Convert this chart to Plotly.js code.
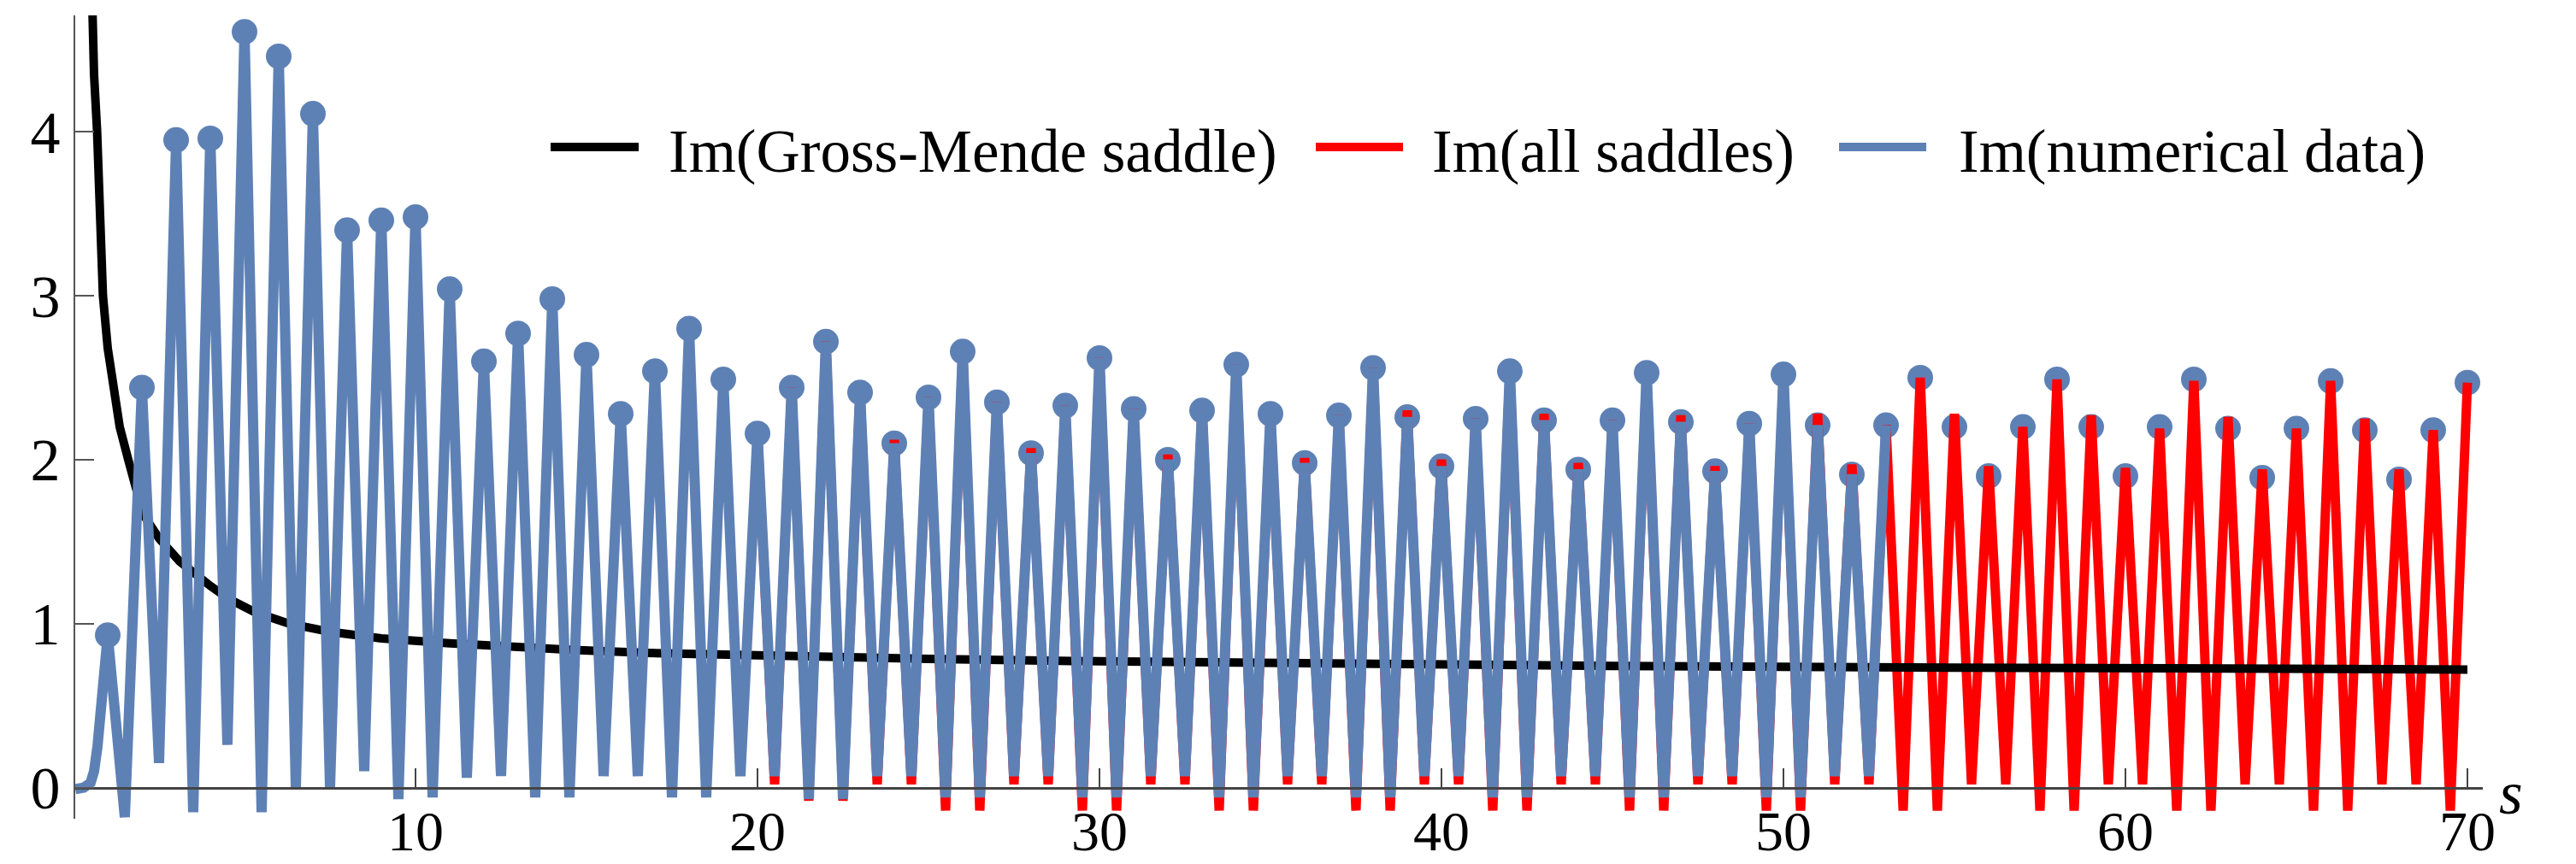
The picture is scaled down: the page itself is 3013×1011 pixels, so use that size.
<!DOCTYPE html>
<html><head><meta charset="utf-8">
<script src="https://cdn.plot.ly/plotly-3.0.1.min.js"></script>
<style>html,body{margin:0;padding:0;background:#fff;overflow:hidden}#chart{width:3013px;height:1011px}</style>
</head><body><div id="chart"></div>
<script>
// ---------------- data ----------------
const peakS = [1,2,3,4,5,6,7,8,9,10,11,12,13,14,15,16,17,18,19,20,21,22,23,24,25,26,27,28,29,30,31,32,33,34,35,36,37,38,39,40,41,42,43,44,45,46,47,48,49,50,51,52,53,54,55,56,57,58,59,60,61,62,63,64,65,66,67,68,69,70];
const peakIm = [0.93,2.44,3.95,3.96,4.61,4.46,4.11,3.40,3.46,3.48,3.04,2.60,2.77,2.98,2.64,2.28,2.54,2.80,2.49,2.16,
  2.44,2.72,2.41,2.10,2.38,2.66,2.35,2.04,2.33,2.62,2.31,2.00,2.30,2.58,2.28,1.98,2.27,2.56,2.26,1.96,
  2.25,2.54,2.24,1.94,2.24,2.53,2.23,1.93,2.22,2.52,2.21,1.91,2.21,2.50,2.20,1.90,2.20,2.49,2.20,1.90,
  2.20,2.49,2.19,1.89,2.19,2.48,2.18,1.88,2.18,2.47];

const numStartS  = [0.05,0.3,0.5,0.6,0.7,0.8,0.9];
const numStartIm = [-0.01,0.0,0.03,0.1,0.25,0.5,0.72];
const numLastS = 53;
const numTroughS = [1.5,2.5,3.5,4.5,5.5,6.5,7.5,8.5,9.5,10.5,11.5,12.5,13.5,14.5,15.5,16.5,17.5,18.5,19.5,20.5,
  21.5,22.5,23.5,24.5,25.5,26.5,27.5,28.5,29.5,30.5,31.5,32.5,33.5,34.5,35.5,36.5,37.5,38.5,39.5,40.5,
  41.5,42.5,43.5,44.5,45.5,46.5,47.5,48.5,49.5,50.5,51.5,52.5];
const numTroughIm = [-0.18,0.15,-0.15,0.26,-0.15,0.00,0.00,0.10,-0.07,-0.06,0.06,0.07,-0.06,-0.06,0.07,0.07,-0.06,-0.06,0.07,0.07,
  -0.07,-0.07,0.07,0.07,-0.06,-0.06,0.07,0.07,-0.06,-0.06,0.07,0.07,-0.06,-0.06,0.07,0.07,-0.06,-0.06,0.07,0.07,
  -0.06,-0.06,0.07,0.07,-0.06,-0.06,0.07,0.07,-0.06,-0.06,0.07,0.07];

const saddleFirstS = 20;
const saddlePeakIm = [2.16,2.44,2.72,2.41,2.12,2.38,2.66,2.35,2.07,2.33,2.62,2.31,2.03,2.30,2.58,2.28,2.01,2.27,2.56,2.30,
  2.00,2.25,2.54,2.28,1.98,2.24,2.53,2.27,1.96,2.22,2.52,2.28,1.97,2.21,2.50,2.28,1.96,2.20,2.49,2.27,
  1.95,2.19,2.48,2.26,1.94,2.19,2.48,2.25,1.94,2.18,2.47];
const saddleTroughS = [20.5,21.5,22.5,23.5,24.5,25.5,26.5,27.5,28.5,29.5,30.5,31.5,32.5,33.5,34.5,35.5,36.5,37.5,38.5,39.5,
  40.5,41.5,42.5,43.5,44.5,45.5,46.5,47.5,48.5,49.5,50.5,51.5,52.5,53.5,54.5,55.5,56.5,57.5,58.5,59.5,
  60.5,61.5,62.5,63.5,64.5,65.5,66.5,67.5,68.5,69.5];
const saddleTroughIm = [0.02,-0.08,-0.08,0.02,0.02,-0.14,-0.14,0.02,0.02,-0.14,-0.14,0.02,0.02,-0.14,-0.14,0.02,0.02,-0.14,-0.14,0.02,
  0.02,-0.14,-0.14,0.02,0.02,-0.14,-0.14,0.02,0.02,-0.14,-0.14,0.02,0.02,-0.14,-0.14,0.02,0.02,-0.14,-0.14,0.02,
  0.02,-0.14,-0.14,0.02,0.02,-0.14,-0.14,0.02,0.02,-0.14];

const gmS  = [0.45,0.53,0.6,0.69,0.78,0.86,1.0,1.2,1.35,1.6,2.03,2.5,3.1,4.0,4.55,5.3,6.3,7.5,9.0,11,12.85,14.6,17,20,25,30,37.85,45,55,62,70];
const gmIm = [5.6,4.71,4.35,4.0,3.45,3.0,2.68,2.4,2.2,2.0,1.67,1.52,1.38,1.23,1.15,1.07,1.0,0.95,0.91,0.88,0.857,0.84,0.82,0.805,0.785,0.77,0.753,0.742,0.732,0.726,0.72];

const xTickVals = [10,20,30,40,50,60,70];
const xTickText = ['10','20','30','40','50','60','70'];
const yTickVals = [0,1,2,3,4];
const yTickText = ['0','1','2','3','4'];
const seriesNames = ['Im(Gross-Mende saddle)','Im(all saddles)','Im(numerical data)'];
const seriesColors = ['#000000','#FF0000','#5E81B5'];
const axisLabel = 's';

// ---------------- build polylines ----------------
function mergeSorted(parts){
  const pts=[];
  parts.forEach(p=>{p[0].forEach((x,i)=>pts.push([x,p[1][i]]));});
  pts.sort((a,b)=>a[0]-b[0]);
  return {x:pts.map(p=>p[0]), y:pts.map(p=>p[1])};
}
const numPeakS=[],numPeakIm=[];
peakS.forEach((s,i)=>{ if(s<=numLastS){numPeakS.push(s);numPeakIm.push(peakIm[i]);} });
const numLine = mergeSorted([[numStartS,numStartIm],[numPeakS,numPeakIm],[numTroughS,numTroughIm]]);
const sadPeakS = peakS.filter(s=>s>=saddleFirstS);
const sadLine = mergeSorted([[sadPeakS,saddlePeakIm],[saddleTroughS,saddleTroughIm]]);

const FONT='Liberation Serif';
const traces = [
  {x:peakS, y:peakIm, mode:'markers', type:'scatter', marker:{size:30,color:seriesColors[2]}, showlegend:false, name:seriesNames[2]+' points'},
  {x:sadLine.x, y:sadLine.y, mode:'lines', type:'scatter', line:{color:seriesColors[1],width:11}, name:seriesNames[1], showlegend:false},
  {x:gmS, y:gmIm, mode:'lines', type:'scatter', line:{color:seriesColors[0],width:10}, name:seriesNames[0], showlegend:false},
  {x:numLine.x, y:numLine.y, mode:'lines', type:'scatter', line:{color:seriesColors[2],width:12}, name:seriesNames[2], showlegend:false}
];

// geometry
const W=3013,H=1011, mL=88, mR=109, mT=18, mB=53;
const pw=W-mL-mR, ph=H-mT-mB;
const xR=[0.05,70.45], yR=[-0.19,4.71];
const px2paper = px => (px-mL)/pw;
const py2paper = py => 1-(py-mT)/ph;

// manual legend (line samples + text)
const legSamples=[[644,747],[1539,1641],[2151,2253]];
const legText=[781,1674,2290];
const legY=172;
const shapes=[], annotations=[];
seriesNames.forEach((n,i)=>{
  shapes.push({type:'line',xref:'paper',yref:'paper',x0:px2paper(legSamples[i][0]),x1:px2paper(legSamples[i][1]),
    y0:py2paper(legY),y1:py2paper(legY),line:{color:seriesColors[i],width:10}});
  annotations.push({xref:'paper',yref:'paper',x:px2paper(legText[i]),y:py2paper(legY+5),xanchor:'left',yanchor:'middle',
    text:n,showarrow:false,borderpad:0,font:{family:FONT,size:71,color:'#000'}});
});
annotations.push({xref:'paper',yref:'y',x:1,y:0,xanchor:'left',yanchor:'middle',xshift:18,yshift:-6,
  text:'<i>'+axisLabel+'</i>',showarrow:false,borderpad:0,font:{family:FONT,size:71,color:'#000'}});

const layout={
  width:W,height:H,margin:{l:mL,r:mR,t:mT,b:mB,pad:0},
  paper_bgcolor:'#fff',plot_bgcolor:'#fff',showlegend:false,
  xaxis:{range:xR,anchor:'free',position:(0-yR[0])/(yR[1]-yR[0]),showline:true,linecolor:'#444',linewidth:3,
    ticks:'inside',ticklen:22,tickwidth:2,tickcolor:'#444',tickmode:'array',tickvals:xTickVals,ticktext:xTickText,
    tickfont:{family:FONT,size:66,color:'#000'},ticklabelstandoff:-8,showgrid:false,zeroline:false},
  yaxis:{range:yR,showline:true,linecolor:'#555',linewidth:2.5,
    ticks:'inside',ticklen:22,tickwidth:2,tickcolor:'#555',tickmode:'array',tickvals:yTickVals,ticktext:yTickText,
    tickfont:{family:FONT,size:70,color:'#000'},ticklabelstandoff:1,showgrid:false,zeroline:false},
  shapes:shapes,annotations:annotations
};
Plotly.newPlot('chart',traces,layout,{displayModeBar:false,staticPlot:true});
</script></body></html>
